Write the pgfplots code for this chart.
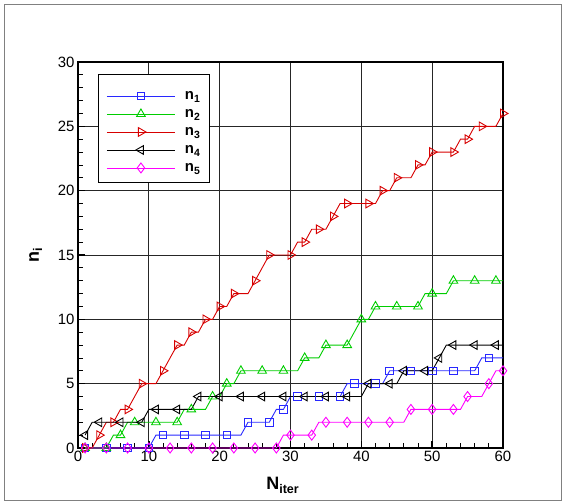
\documentclass[border=0pt]{standalone}
\usepackage{fontspec}
\setmainfont{Liberation Sans}
\usepackage{pgfplots}
\usepackage{pgfplotstable}
\pgfplotsset{compat=1.18}

\definecolor{cBlue}{RGB}{40,40,255}
\definecolor{cGreen}{RGB}{0,205,0}
\definecolor{cRed}{RGB}{215,0,0}
\definecolor{cMag}{RGB}{255,0,255}

% legend glyph: a line with one mark in its middle
\pgfplotsset{
  leg/.style={legend image code/.code={%
    \draw[#1, line width=0.9bp] (0bp,-3.5bp) -- (68bp,-3.5bp);
    \draw[#1, line width=0.9bp] plot coordinates {(34bp,-3.5bp)};
    \path (76bp,-3.5bp);}},
}

% number of cells of each kind after each iteration
\pgfplotstableread[row sep=\\]{
k n1 n2 n3 n4 n5\\
1 0 0 0 1 0\\
2 0 0 0 2 0\\
3 0 0 1 2 0\\
4 0 0 2 2 0\\
5 0 1 2 2 0\\
6 0 1 3 2 0\\
7 0 2 3 2 0\\
8 0 2 4 2 0\\
9 0 2 5 2 0\\
10 0 2 5 3 0\\
11 1 2 5 3 0\\
12 1 2 6 3 0\\
13 1 2 7 3 0\\
14 1 2 8 3 0\\
15 1 3 8 3 0\\
16 1 3 9 3 0\\
17 1 3 9 4 0\\
18 1 3 10 4 0\\
19 1 4 10 4 0\\
20 1 4 11 4 0\\
21 1 5 11 4 0\\
22 1 5 12 4 0\\
23 1 6 12 4 0\\
24 2 6 12 4 0\\
25 2 6 13 4 0\\
26 2 6 14 4 0\\
27 2 6 15 4 0\\
28 3 6 15 4 0\\
29 3 6 15 4 1\\
30 4 6 15 4 1\\
31 4 6 16 4 1\\
32 4 7 16 4 1\\
33 4 7 17 4 1\\
34 4 7 17 4 2\\
35 4 8 17 4 2\\
36 4 8 18 4 2\\
37 4 8 19 4 2\\
38 5 8 19 4 2\\
39 5 9 19 4 2\\
40 5 10 19 4 2\\
41 5 10 19 5 2\\
42 5 11 19 5 2\\
43 5 11 20 5 2\\
44 6 11 20 5 2\\
45 6 11 21 5 2\\
46 6 11 21 6 2\\
47 6 11 21 6 3\\
48 6 11 22 6 3\\
49 6 12 22 6 3\\
50 6 12 23 6 3\\
51 6 12 23 7 3\\
52 6 12 23 8 3\\
53 6 13 23 8 3\\
54 6 13 24 8 3\\
55 6 13 24 8 4\\
56 6 13 25 8 4\\
57 7 13 25 8 4\\
58 7 13 25 8 5\\
59 7 13 25 8 6\\
60 7 13 26 8 6\\
}\counts

\begin{document}
\begin{tikzpicture}
\useasboundingbox (0,0) rectangle (566bp,504bp);
\draw[black!50, line width=0.8bp] (4.5bp,4bp) rectangle (561.5bp,500bp);
\begin{axis}[
  at={(78bp,56bp)}, anchor=south west,
  scale only axis, width=425bp, height=386bp,
  xmin=0, xmax=60, ymin=0, ymax=30,
  xtick={0,10,...,60}, ytick={0,5,...,30},
  minor x tick num=4, minor y tick num=4,
  tick pos=left, tick align=inside,
  major tick length=7bp, minor tick length=5bp,
  every major tick/.append style={black, line width=1.6bp},
  every minor tick/.append style={black, line width=0.8bp},
  grid=major,
  major grid style={black!85, line width=0.8bp},
  axis line style={line width=2bp},
  tick label style={font=\fontsize{15}{15}\selectfont},
  /pgf/number format/assume math mode=true,
  clip=false,
  xlabel={N\textsubscript{iter}},
  ylabel={n\textsubscript{i}},
  xlabel style={font=\fontsize{18}{18}\selectfont\bfseries,
    at={(axis description cs:0.482,-0.1088)}, anchor=base},
  ylabel style={font=\fontsize{18}{18}\selectfont\bfseries,
    at={(axis description cs:-0.0918,0.5)}, anchor=base},
  legend style={at={(rel axis cs:0.047,0.969)}, anchor=north west,
    draw=black, line width=1bp, fill=white,
    inner xsep=8bp, inner ysep=9bp,
    font=\fontsize{15}{15}\selectfont\bfseries,
    nodes={inner sep=1.5bp, text height=15bp, text depth=0bp}},
  legend cell align=left,
]
\addplot[cBlue, line width=0.9bp, mark=square, mark size=3.8bp,
  mark options={solid, line width=0.9bp},
  mark indices={1,4,7,10,12,15,18,21,24,27,29,31,34,37,39,42,44,47,50,53,56,58},
  leg={draw=cBlue, mark=square, mark size=3.8bp}]
  table[x=k, y=n1] {\counts};
\addlegendentry{n\textsubscript{1}}
\addplot[cGreen, line width=0.9bp, mark=triangle, mark size=5bp,
  mark options={solid, line width=0.9bp},
  mark indices={1,4,6,8,11,14,16,19,21,23,26,29,32,35,38,40,42,45,48,50,53,56,59},
  leg={draw=cGreen, mark=triangle, mark size=5bp}]
  table[x=k, y=n2] {\counts};
\addlegendentry{n\textsubscript{2}}
\addplot[cRed, line width=0.9bp, mark=triangle, mark size=5bp,
  mark options={solid, line width=0.9bp, rotate=-90},
  mark indices={1,3,5,7,9,12,14,16,18,20,22,25,27,30,32,34,36,38,41,43,45,48,50,53,55,57,60},
  leg={draw=cRed, mark=triangle, mark size=5bp, mark options={rotate=-90}}]
  table[x=k, y=n3] {\counts};
\addlegendentry{n\textsubscript{3}}
\addplot[black, line width=0.9bp, mark=triangle, mark size=5bp,
  mark options={solid, line width=0.9bp, rotate=90},
  mark indices={1,3,6,9,11,14,17,20,23,26,29,32,35,38,41,44,46,49,51,53,56,59},
  leg={draw=black, mark=triangle, mark size=5bp, mark options={rotate=90}}]
  table[x=k, y=n4] {\counts};
\addlegendentry{n\textsubscript{4}}
\addplot[cMag, line width=0.9bp, mark=diamond, mark size=5bp,
  mark options={solid, line width=0.9bp},
  mark indices={1,4,7,10,13,16,19,22,25,28,30,33,35,38,41,44,47,50,53,55,58,60},
  leg={draw=cMag, mark=diamond, mark size=5bp}]
  table[x=k, y=n5] {\counts};
\addlegendentry{n\textsubscript{5}}
\end{axis}
\end{tikzpicture}
\end{document}
